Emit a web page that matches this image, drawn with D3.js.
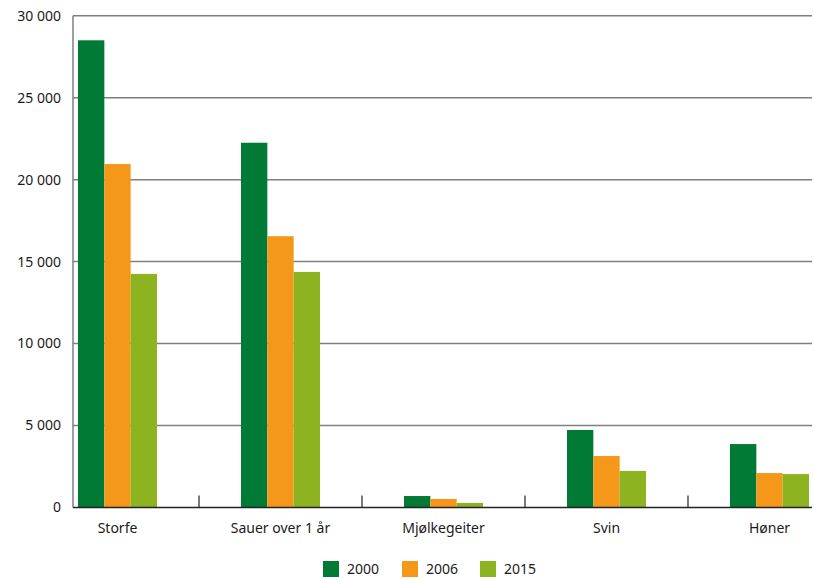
<!DOCTYPE html>
<html>
<head>
<meta charset="utf-8">
<script src="https://cdn.jsdelivr.net/npm/d3@7"></script>
<style>
  body { margin: 0; background: #fff; }
  svg text { font-family: "Noto Sans", "Open Sans", sans-serif; fill: #1a1a1a; }
</style>
</head>
<body>
<svg id="chart" width="814" height="579"></svg>
<script>
var categories = ["Storfe", "Sauer over 1 år", "Mjølkegeiter", "Svin", "Høner"];
var years = ["2000", "2006", "2015"];
var values2000 = [28500, 22250, 700, 4730, 3870];
var values2006 = [20950, 16550, 520, 3140, 2100];
var values2015 = [14250, 14370, 280, 2230, 2040];
var yTicks = [0, 5000, 10000, 15000, 20000, 25000, 30000];
var colors = ["#007a35", "#f5981a", "#8db321"];

var series = [values2000, values2006, values2015];

var svg = d3.select("#chart");

var plotLeft = 73, plotRight = 812;

var x = d3.scaleBand()
        .domain(categories)
        .range([36, 851])
        .paddingInner(0)
        .paddingOuter(0);

var xInner = d3.scaleBand()
        .domain(years)
        .range([0, 79]);

var y = d3.scaleLinear()
        .domain([0, 30000])
        .range([507.5, 15.7]);

var fmt = function(d){
    return d3.format(",")(d).replace(/,/g, " ");
};

// gridlines
svg.append("g")
        .selectAll("line")
        .data(yTicks.filter(function(d){ return d > 0; }))
        .join("line")
        .attr("x1", plotLeft)
        .attr("x2", plotRight)
        .attr("y1", function(d){ return y(d); })
        .attr("y2", function(d){ return y(d); })
        .style("stroke", "#7f7f7f")
        .style("stroke-width", 1.5);

// y axis line
svg.append("line")
        .attr("x1", plotLeft)
        .attr("x2", plotLeft)
        .attr("y1", y(30000))
        .attr("y2", y(0))
        .style("stroke", "#7f7f7f")
        .style("stroke-width", 1.5);

// y labels
svg.append("g")
        .selectAll("text")
        .data(yTicks)
        .join("text")
        .attr("x", 61)
        .attr("y", function(d){ return y(d); })
        .attr("dy", "0.35em")
        .attr("text-anchor", "end")
        .style("font-size", "14px")
        .text(fmt);

// bars
series.forEach(function(vals, i){
    svg.append("g")
            .selectAll("rect")
            .data(vals)
            .join("rect")
            .attr("x", function(d, j){
                return x(categories[j]) + x.bandwidth() / 2 - 39.5 + xInner(years[i]);
            })
            .attr("width", xInner.bandwidth())
            .attr("y", function(d){ return y(d); })
            .attr("height", function(d){ return y(0) - y(d); })
            .style("fill", colors[i]);
});

// x axis line
svg.append("line")
        .attr("x1", plotLeft)
        .attr("x2", plotRight)
        .attr("y1", y(0))
        .attr("y2", y(0))
        .style("stroke", "#222")
        .style("stroke-width", 1.5);

// category separator ticks
svg.append("g")
        .selectAll("line")
        .data(categories.slice(1))
        .join("line")
        .attr("x1", function(d){ return x(d); })
        .attr("x2", function(d){ return x(d); })
        .attr("y1", y(0) - 12)
        .attr("y2", y(0))
        .style("stroke", "#222")
        .style("stroke-width", 1.2);

// category labels
svg.append("g")
        .selectAll("text")
        .data(categories)
        .join("text")
        .attr("x", function(d){ return x(d) + x.bandwidth() / 2; })
        .attr("y", 533)
        .attr("text-anchor", "middle")
        .style("font-size", "14px")
        .text(function(d){ return d; });

// legend
var legendX = [323, 402, 480];
var legend = svg.append("g")
        .selectAll("g")
        .data(years)
        .join("g")
        .attr("transform", function(d, i){ return "translate(" + legendX[i] + ",561)"; });

legend.append("rect")
        .attr("width", 16)
        .attr("height", 16)
        .style("fill", function(d, i){ return colors[i]; });

legend.append("text")
        .attr("x", 24)
        .attr("y", 8)
        .attr("dy", "0.35em")
        .style("font-size", "14px")
        .text(function(d){ return d; });
</script>
</body>
</html>
